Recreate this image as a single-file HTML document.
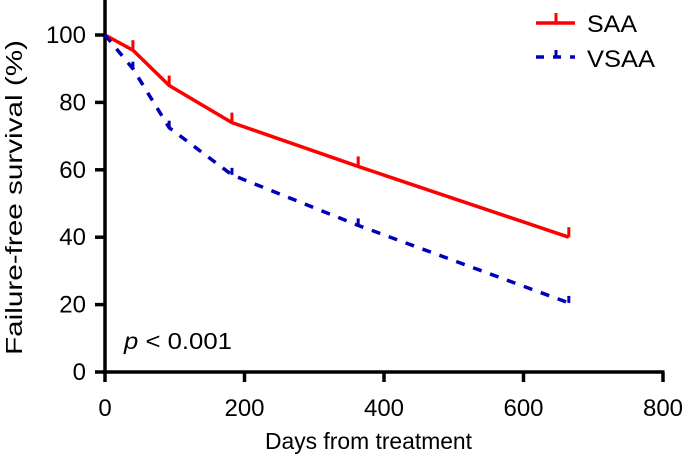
<!DOCTYPE html>
<html><head><meta charset="utf-8"><style>
html,body{margin:0;padding:0;background:#fff;}
svg{display:block;font-family:"Liberation Sans",Arial,sans-serif;}
</style></head><body>
<svg id="chart" width="685" height="461" viewBox="0 0 685 461">
<g id="axes"></g>
<g id="series"></g>
<g id="legend">
  <g>
    <line x1="536" y1="23" x2="575" y2="23" stroke="#ff0000" stroke-width="3.5"/>
    <line x1="556" y1="23" x2="556" y2="13" stroke="#ff0000" stroke-width="3"/>
    <text x="587" y="32" font-size="24" textLength="50" lengthAdjust="spacingAndGlyphs">SAA</text>
  </g>
  <g>
    <line x1="536" y1="57" x2="575" y2="57" stroke="#0000bb" stroke-width="3.5" stroke-dasharray="8,9"/>
    <line x1="556" y1="57" x2="556" y2="50" stroke="#0000bb" stroke-width="3"/>
    <text x="587" y="67" font-size="24" textLength="68" lengthAdjust="spacingAndGlyphs">VSAA</text>
  </g>
</g>
<text x="124" y="349" font-size="23" textLength="108" lengthAdjust="spacingAndGlyphs"><tspan font-style="italic">p</tspan> &lt; 0.001</text>
<text x="265" y="449" font-size="23" textLength="207" lengthAdjust="spacingAndGlyphs">Days from treatment</text>
<text transform="translate(22,355) rotate(-90)" font-size="23" textLength="315" lengthAdjust="spacingAndGlyphs">Failure-free survival (%)</text>
</svg>
<script>
const xTicks = [0, 200, 400, 600, 800];
const yTicks = [0, 20, 40, 60, 80, 100];
const saaDays = [0, 40, 92, 182, 363, 665];
const saaSurv = [100, 95.5, 85, 74, 61, 40];
const vsaaDays = [0, 40, 92, 182, 363, 665];
const vsaaSurv = [100, 90, 72.5, 58.5, 43.5, 20.5];

const NS = 'http://www.w3.org/2000/svg';
const x = d => 105 + d * (558 / 800);
const y = v => 372 - v * 3.37;
function mk(tag, attrs, parent) {
  const e = document.createElementNS(NS, tag);
  for (const k in attrs) e.setAttribute(k, attrs[k]);
  parent.appendChild(e);
  return e;
}
const axes = document.getElementById('axes');
const series = document.getElementById('series');
const xa = mk('line', {x1: 103.5, y1: 372, x2: x(800) + 1.5, y2: 372, stroke: '#000', 'stroke-width': 3.5}, axes);


const ya = mk('line', {x1: 105, y1: 373, x2: 105, y2: 0, stroke: '#000', 'stroke-width': 3.5}, axes);


xTicks.forEach(t => {
  const l = mk('line', {x1: x(t), y1: 372, x2: x(t), y2: 382, stroke: '#000', 'stroke-width': 3.5}, axes);
  
  
  const tx = mk('text', {x: x(t), y: 416, 'font-size': 24, 'text-anchor': 'middle'}, axes);
  tx.textContent = t;
  
  
});
yTicks.forEach(t => {
  const l = mk('line', {x1: 95, y1: y(t), x2: 105, y2: y(t), stroke: '#000', 'stroke-width': 3.5}, axes);
  
  
  const tx = mk('text', {x: 86, y: y(t) + 8, 'font-size': 24, 'text-anchor': 'end'}, axes);
  tx.textContent = t;
  
  
});
function drawSeries(days, surv, color, dash, name, tickLen) {
  const pts = days.map((d, i) => x(d) + ',' + y(surv[i])).join(' ');
  const attrs = {points: pts, fill: 'none', stroke: color, 'stroke-width': 3.5, 'stroke-linejoin': 'round'};
  if (dash) attrs['stroke-dasharray'] = dash;
  const pl = mk('polyline', attrs, series);
  
  
  days.forEach((d, i) => {
    if (i === 0) return;
    const c = mk('line', {x1: x(d), y1: y(surv[i]), x2: x(d), y2: y(surv[i]) - tickLen, stroke: color, 'stroke-width': 3}, series);
    
    
  });
}
drawSeries(saaDays, saaSurv, '#ff0000', null, 'saa', 10);
drawSeries(vsaaDays, vsaaSurv, '#0000bb', '9,9', 'vsaa', 7);
</script>
</body></html>
